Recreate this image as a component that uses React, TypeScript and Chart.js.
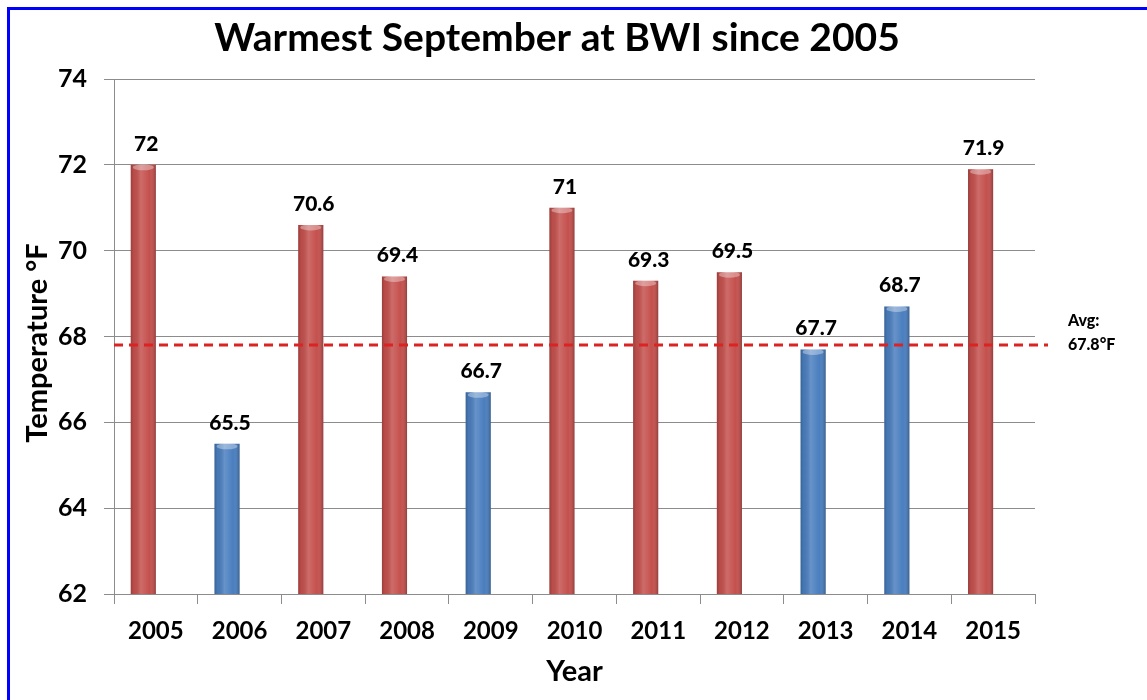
import React, { useEffect, useRef } from "react";
import { Chart, registerables } from "chart.js";

Chart.register(...registerables);

const years = ["2005", "2006", "2007", "2008", "2009", "2010", "2011", "2012", "2013", "2014", "2015"];
const temps = [72, 65.5, 70.6, 69.4, 66.7, 71, 69.3, 69.5, 67.7, 68.7, 71.9];
const spacer: (number | null)[] = years.map(() => null);
const average = 67.8;
const warmThreshold = 69;
const yMin = 62;
const yMax = 74;
const yStep = 2;
const titleText = "Warmest September at BWI since 2005";
const yTitleText = "Temperature °F";
const xTitleText = "Year";
const avgLabelLines = ["Avg:", "67.8°F"];

const RED = "#C4504D";
const BLUE = "#4A7EBF";
const FONT = "Lato, 'Open Sans', sans-serif";

const barColors = temps.map((t) => (t >= warmThreshold ? RED : BLUE));

const decorPlugin = {
  id: "decor",
  beforeDraw(chart: any) {
    const ctx = chart.ctx;
    ctx.save();
    ctx.fillStyle = "#ffffff";
    ctx.fillRect(0, 0, chart.width, chart.height);
    ctx.fillStyle = "#0000ff";
    ctx.fillRect(7, 7, chart.width - 7, 3);
    ctx.fillRect(7, 7, 3, chart.height - 7);
    ctx.restore();
  },
  afterDatasetsDraw(chart: any) {
    const ctx = chart.ctx;
    const meta = chart.getDatasetMeta(0);
    const bottom = chart.chartArea.bottom;
    ctx.save();
    meta.data.forEach((el: any) => {
      const { x, y, base, width } = el.getProps(["x", "y", "base", "width"], true);
      const b = Math.min(base, bottom);
      const left = x - width / 2;
      const g = ctx.createLinearGradient(left, 0, left + width, 0);
      g.addColorStop(0, "rgba(0,0,0,0.22)");
      g.addColorStop(0.12, "rgba(0,0,0,0.05)");
      g.addColorStop(0.4, "rgba(255,255,255,0.16)");
      g.addColorStop(0.75, "rgba(255,255,255,0.0)");
      g.addColorStop(1, "rgba(0,0,0,0.25)");
      ctx.fillStyle = g;
      ctx.fillRect(left, y, width, b - y);
      ctx.fillStyle = "rgba(255,255,255,0.35)";
      ctx.beginPath();
      ctx.ellipse(x, y + 2.5, width / 2 - 2, 3, 0, 0, Math.PI * 2);
      ctx.fill();
    });
    ctx.restore();
  },
  afterDraw(chart: any) {
    const ctx = chart.ctx;
    const { chartArea, scales } = chart;
    const yScale = scales.y;
    ctx.save();

    // average dashed line
    const ay = yScale.getPixelForValue(average);
    ctx.strokeStyle = "#dc2323";
    ctx.lineWidth = 3;
    ctx.setLineDash([9, 6]);
    ctx.beginPath();
    ctx.moveTo(chartArea.left, ay);
    ctx.lineTo(chartArea.right + 13, ay);
    ctx.stroke();
    ctx.setLineDash([]);

    // average label
    ctx.fillStyle = "#000000";
    ctx.font = `900 16px ${FONT}`;
    ctx.textAlign = "left";
    ctx.textBaseline = "alphabetic";
    ctx.fillText(avgLabelLines[0], chartArea.right + 33, ay - 19);
    ctx.fillText(avgLabelLines[1], chartArea.right + 33, ay + 5);

    // data labels
    const meta = chart.getDatasetMeta(0);
    ctx.font = `900 21px ${FONT}`;
    ctx.textAlign = "center";
    meta.data.forEach((el: any, i: number) => {
      const { x, y } = el.getProps(["x", "y"], true);
      ctx.fillText(String(temps[i]), x + 3, y - 14);
    });

    // title
    ctx.font = `bold 39px ${FONT}`;
    ctx.textAlign = "center";
    ctx.fillText(titleText, 557, 51);

    // x axis title
    ctx.font = `bold 29px ${FONT}`;
    ctx.fillText(xTitleText, (chartArea.left + chartArea.right) / 2, 681);

    // y axis title
    ctx.translate(47, 343);
    ctx.rotate(-Math.PI / 2);
    ctx.fillText(yTitleText, 0, 0);
    ctx.restore();
  },
};

export default function App() {
  const ref = useRef<HTMLCanvasElement | null>(null);
  useEffect(() => {
    if (!ref.current) return;
    const chart = new Chart(ref.current, {
      type: "bar",
      data: {
        labels: years,
        datasets: [
          {
            label: "Temperature",
            data: temps,
            backgroundColor: barColors,
            borderWidth: 0,
            barPercentage: 1,
            categoryPercentage: 0.6,
          },
          {
            label: "spacer",
            data: spacer,
            backgroundColor: "rgba(0,0,0,0)",
            barPercentage: 1,
            categoryPercentage: 0.6,
          },
        ],
      },
      options: {
        responsive: false,
        animation: false,
        devicePixelRatio: 1,
        layout: { padding: { top: 79, right: 112, left: 0, bottom: 0 } },
        plugins: {
          legend: { display: false },
          title: { display: false },
          tooltip: { enabled: false },
        },
        scales: {
          x: {
            afterFit(scale: any) {
              scale.height = 106;
            },
            grid: {
              display: true,
              drawOnChartArea: false,
              drawTicks: true,
              tickLength: 10,
              color: "#8c8c8c",
            },
            border: { display: true, color: "#8c8c8c" },
            ticks: {
              color: "#000000",
              font: { family: FONT, weight: "bold", size: 24 },
              padding: 13,
              maxRotation: 0,
            },
          },
          y: {
            min: yMin,
            max: yMax,
            afterFit(scale: any) {
              scale.width = 114;
            },
            grid: { color: "#8c8c8c", tickLength: 10 },
            border: { display: true, color: "#8c8c8c" },
            ticks: {
              stepSize: yStep,
              color: "#000000",
              font: { family: FONT, weight: "bold", size: 25 },
              padding: 17,
            },
          },
        },
      },
      plugins: [decorPlugin],
    });
    return () => chart.destroy();
  }, []);
  return (
    <div style={{ position: "absolute", left: 0, top: 0, width: 1147, height: 700 }}>
      <canvas ref={ref} width={1147} height={700} style={{ display: "block" }} />
    </div>
  );
}
